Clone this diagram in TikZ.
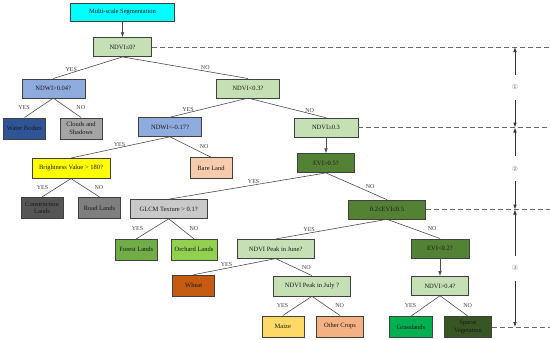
\documentclass[tikz,border=0pt]{standalone}
\usepackage{fontspec}
\setmainfont{Liberation Serif}
\newfontfamily\circfont{DejaVu Sans}
\usetikzlibrary{positioning,arrows.meta,calc}

\definecolor{segcyan}{HTML}{00FFFF}
\definecolor{ndvigreen}{HTML}{C5E0B4}
\definecolor{ndwiblue}{HTML}{8FAADC}
\definecolor{waterblue}{HTML}{2F5597}
\definecolor{cloudgrey}{HTML}{A5A5A5}
\definecolor{brightyellow}{HTML}{FFFF00}
\definecolor{barepeach}{HTML}{F8CBAD}
\definecolor{constgrey}{HTML}{555555}
\definecolor{roadgrey}{HTML}{7F7F7F}
\definecolor{glcmgrey}{HTML}{C9C9C9}
\definecolor{evigreen}{HTML}{548235}
\definecolor{forestlands}{HTML}{70AD47}
\definecolor{orchardgreen}{HTML}{92D050}
\definecolor{wheatbrown}{HTML}{C55A11}
\definecolor{maizeyellow}{HTML}{FFD966}
\definecolor{cropspeach}{HTML}{F4B183}
\definecolor{grassgreen}{HTML}{00B050}
\definecolor{sparsegreen}{HTML}{375623}

\begin{document}
\begin{tikzpicture}[
  x=1pt, y=-1pt,
  font=\fontsize{6.5}{7.5}\selectfont,
  >={Latex[length=5pt, width=3.6pt]},
  box/.style={draw=black!75, line width=0.6pt, align=center, inner sep=1.5pt, text=black!90},
  cond/.style={box, minimum height=19pt},
  leaf/.style={box, minimum height=21pt, minimum width=42pt},
  link/.style={draw=black!70, line width=0.6pt},
  lbl/.style={font=\fontsize{6}{7}\selectfont, text=black!75, inner sep=1pt},
  cutline/.style={draw=black!60, line width=0.6pt, dash pattern=on 5pt off 3pt},
  lvlarrow/.style={<->, draw=black!80, line width=0.7pt},
  lvl/.style={font=\circfont\fontsize{7}{8}\selectfont, text=black!45, fill=white,
              inner xsep=1pt, inner ysep=10pt},
]
\useasboundingbox (0,0) rectangle (550,340);

% ---- level 1: water, clouds ----
\node[box, fill=segcyan, minimum width=104pt, minimum height=18pt] (seg) at (122.5,12)
  {Multi-scale Segmentation};
\node[cond, fill=ndvigreen, minimum width=58pt, below=16pt of seg] (ndvi0) {NDVI≤0?};
\node[cond, fill=ndwiblue, minimum width=63pt] (ndwi) at (53.3,88.3) {NDWI>0.04?};
\node[cond, fill=ndvigreen, minimum width=63pt] (ndvi03) at (248,88.3) {NDVI<0.3?};
\node[leaf, fill=waterblue] (water) at (24.5,128.3) {Water Bodies};
\node[leaf, fill=cloudgrey] (clouds) at (81,128.3) {Clouds and\\Shadows};

% ---- level 2: bare and built-up land ----
\node[cond, fill=ndwiblue, minimum width=63pt] (ndwi17) at (170,127) {NDWI<-0.17?};
\node[cond, fill=ndvigreen, minimum width=64pt] (ndvi3) at (326,127.5) {NDVI≥0.3};
\node[cond, fill=brightyellow, minimum width=78pt, minimum height=20pt] (bright) at (71,168.3)
  {Brightness Value > 180?};
\node[leaf, fill=barepeach] (bare) at (211,168) {Bare Land};
\node[cond, fill=evigreen, minimum width=57pt, below=16pt of ndvi3] (evi5) {EVI>0.5?};
\node[leaf, fill=constgrey] (constr) at (42,207.8) {Construction\\Lands};
\node[leaf, fill=roadgrey] (road) at (99.5,207.8) {Road Lands};

% ---- level 3: vegetation ----
\node[cond, fill=glcmgrey, minimum width=77pt] (glcm) at (168.7,209) {GLCM Texture > 0.1?};
\node[cond, fill=evigreen, minimum width=77pt] (evi25) at (387,209.5) {0.2≤EVI≤0.5};
\node[leaf, fill=forestlands] (forest) at (136.3,249.7) {Forest Lands};
\node[leaf, fill=orchardgreen, minimum width=46pt] (orchard) at (194,249.7) {Orchard Lands};
\node[cond, fill=ndvigreen, minimum width=77pt] (june) at (275.7,248.8) {NDVI Peak in June?};
\node[cond, fill=evigreen, minimum width=58pt] (evi2) at (440,248.3) {EVI<0.2?};
\node[leaf, fill=wheatbrown] (wheat) at (193.7,285.5) {Wheat};
\node[cond, fill=ndvigreen, minimum width=77pt, minimum height=20pt] (july) at (312,286)
  {NDVI Peak in July ?};
\node[cond, fill=ndvigreen, minimum width=57pt, below=18pt of evi2] (ndvi4) {NDVI>0.4?};
\node[leaf, fill=maizeyellow] (maize) at (282.8,326.3) {Maize};
\node[leaf, fill=cropspeach, minimum width=47pt] (other) at (340,326.3) {Other Crops};
\node[leaf, fill=grassgreen, minimum width=43pt] (grass) at (411,327) {Grasslands};
\node[leaf, fill=sparsegreen, minimum width=47pt] (sparse) at (468,327) {Sparse\\Vegetation};

% ---- tree edges ----
\draw[->, link] (seg) -- (ndvi0);
\draw[link] (ndvi0.south) -- node[lbl, pos=.74, above]{YES} (ndwi.north);
\draw[link] (ndvi0.south) -- node[lbl, pos=.66, above]{NO} (ndvi03.north);
\draw[link] (ndwi.south) -- node[lbl, left=8pt]{YES} (water.north);
\draw[link] (ndwi.south) -- node[lbl, right=8pt]{NO} (clouds.north);
\draw[link] (ndvi03.south) -- node[lbl, pos=.77, above]{YES} (ndwi17.north);
\draw[link] (ndvi03.south) -- node[lbl, pos=.79, above]{NO} (ndvi3.north);
\draw[link] (ndwi17.south) -- node[lbl, pos=.51, above]{YES} (bright.north);
\draw[link] (ndwi17.south) -- node[lbl, right=8pt]{NO} (bare.north);
\draw[link] (bright.south) -- node[lbl, left=7pt]{YES} (constr.north);
\draw[link] (bright.south) -- node[lbl, right=8pt]{NO} (road.north);
\draw[->, link] (ndvi3) -- (evi5);
\draw[link] (evi5.south) -- node[lbl, pos=.46, above]{YES} (glcm.north);
\draw[link] (evi5.south) -- node[lbl, right=8pt]{NO} (evi25.north);
\draw[link] (glcm.south) -- node[lbl, left=8pt]{YES} (forest.north);
\draw[link] (glcm.south) -- node[lbl, right=7pt]{NO} (orchard.north);
\draw[link] (evi25.south) -- node[lbl, pos=.7, above]{YES} (june.north);
\draw[link] (evi25.south) -- node[lbl, right=13pt]{NO} (evi2.north);
\draw[link] (june.south) -- node[lbl, pos=.6, above]{YES} (wheat.north);
\draw[link] (june.south) -- node[lbl, right=7pt]{NO} (july.north);
\draw[link] (july.south) -- node[lbl, left=8pt]{YES} (maize.north);
\draw[link] (july.south) -- node[lbl, right=8pt]{NO} (other.north);
\draw[->, link] (evi2) -- (ndvi4);
\draw[link] (ndvi4.south) -- node[lbl, left=8pt]{YES} (grass.north);
\draw[link] (ndvi4.south) -- node[lbl, right=8pt]{NO} (sparse.north);

% ---- level boundaries ----
\coordinate (rim) at (515,0);
\coordinate (rimR) at (550,0);
\draw[cutline] (ndvi0.east)  -- (ndvi0.east -| rimR);
\draw[cutline] (ndvi3.east)  -- (ndvi3.east -| rimR);
\draw[cutline] (evi25.east)  -- (evi25.east -| rimR);
\draw[cutline] (sparse.east) -- (sparse.east -| rimR);

\draw[lvlarrow] (ndvi0 -| rim) -- node[lvl]{①} (ndvi3 -| rim);
\draw[lvlarrow] (ndvi3 -| rim) -- node[lvl]{②} (evi25 -| rim);
\draw[lvlarrow] (evi25 -| rim) -- node[lvl]{③} (sparse -| rim);
\end{tikzpicture}
\end{document}
